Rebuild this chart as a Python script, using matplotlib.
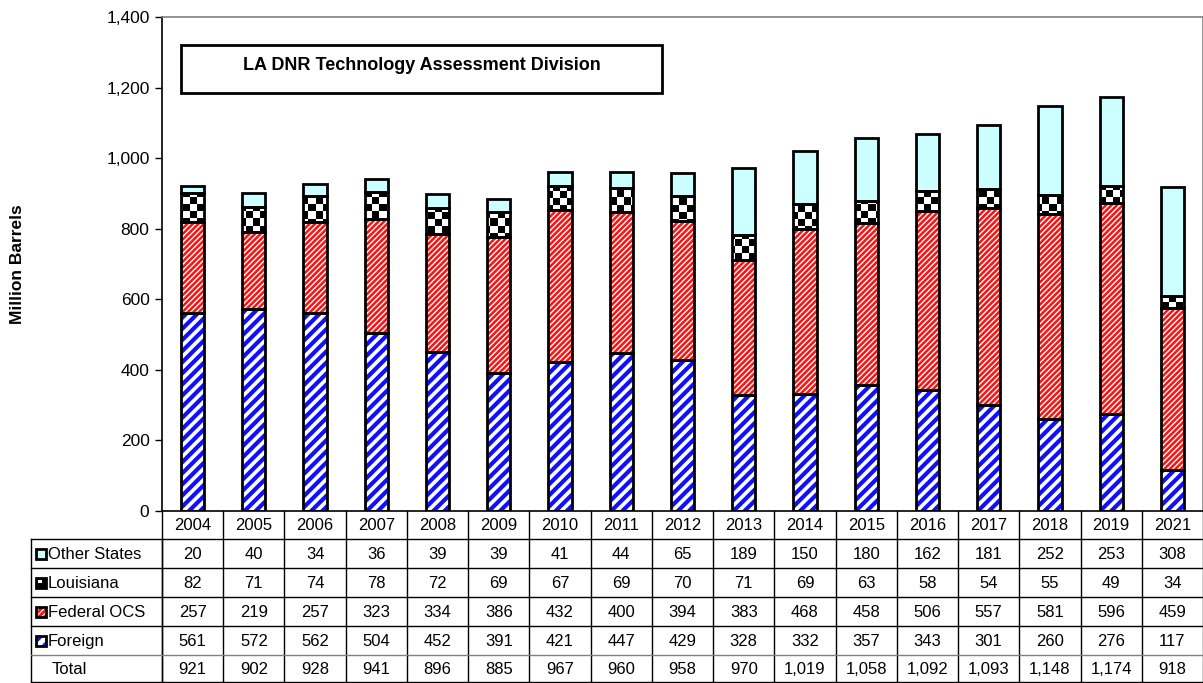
import matplotlib
matplotlib.use("Agg")
import matplotlib.pyplot as plt
import matplotlib.transforms as mtransforms
from matplotlib.patches import Rectangle
import numpy as np

plt.rcParams['font.family'] = ['Liberation Sans', 'DejaVu Sans']

years = ["2004", "2005", "2006", "2007", "2008", "2009", "2010", "2011", "2012",
         "2013", "2014", "2015", "2016", "2017", "2018", "2019", "2021"]
foreign = [561, 572, 562, 504, 452, 391, 421, 447, 429, 328, 332, 357, 343, 301, 260, 276, 117]
federal_ocs = [257, 219, 257, 323, 334, 386, 432, 400, 394, 383, 468, 458, 506, 557, 581, 596, 459]
louisiana = [82, 71, 74, 78, 72, 69, 67, 69, 70, 71, 69, 63, 58, 54, 55, 49, 34]
other_states = [20, 40, 34, 36, 39, 39, 41, 44, 65, 189, 150, 180, 162, 181, 252, 253, 308]
totals = [921, 902, 928, 941, 896, 885, 967, 960, 958, 970, 1019, 1058, 1092, 1093, 1148, 1174, 918]
row_labels = ["Other States", "Louisiana", "Federal OCS", "Foreign"]
yticks = [0, 200, 400, 600, 800, 1000, 1200, 1400]
box_title = "LA DNR Technology Assessment Division"
ylabel = "Million Barrels"

W, H = 1203, 683
fig = plt.figure(figsize=(W / 100, H / 100), dpi=100)

ax_left, ax_right, ax_top, ax_bot = 162, 1203, 17, 511
ax = fig.add_axes([ax_left / W, (H - ax_bot) / H, (ax_right - ax_left) / W, (ax_bot - ax_top) / H])

n = len(years)
x = np.arange(n)
bw = 0.38
foreign_a = np.array(foreign)
fed_a = np.array(federal_ocs)
la_a = np.array(louisiana)
oth_a = np.array(other_states)


def set_hlw(container, lw):
    for p in container.patches:
        if hasattr(p, 'set_hatch_linewidth'):
            p.set_hatch_linewidth(lw)


plt.rcParams['hatch.linewidth'] = 2.0
# Foreign (blue hatch)
b1 = ax.bar(x, foreign_a, bw, color='white', edgecolor='#1010ff', hatch='///', linewidth=0, zorder=2)
set_hlw(b1, 3.0)
# Federal OCS (red hatch)
b2 = ax.bar(x, fed_a, bw, bottom=foreign_a, color='white', edgecolor='#ff1010', hatch='//////',
            linewidth=0, zorder=2)
set_hlw(b2, 1.8)
# Louisiana (checkerboard)
la_bars = ax.bar(x, la_a, bw, bottom=foreign_a + fed_a, color='black', linewidth=0, zorder=2)
# Other states
ax.bar(x, oth_a, bw, bottom=foreign_a + fed_a + la_a, color='#ccffff', linewidth=0, zorder=2)

ax.set_xlim(-0.5, n - 0.5)
ax.set_ylim(0, 1400)

# checker texture for Louisiana
rows = int(round((ax_bot - ax_top) / 7.0))
cols = int(round((ax_right - ax_left) / 7.0))
checker = (np.add.outer(np.arange(rows), np.arange(cols)) % 2).astype(float)
for p in la_bars.patches:
    im = ax.imshow(checker, extent=(-0.5, n - 0.5, 0, 1400), cmap='gray', vmin=0, vmax=1,
                   interpolation='nearest', aspect='auto', zorder=2.5)
    im.set_clip_path(p)
ax.set_xlim(-0.5, n - 0.5)
ax.set_ylim(0, 1400)

# black outlines on top
for vals, bot in [(foreign_a, 0), (fed_a, foreign_a), (la_a, foreign_a + fed_a), (oth_a, foreign_a + fed_a + la_a)]:
    ax.bar(x, vals, bw, bottom=bot, fill=False, edgecolor='black', linewidth=2.0, zorder=3)

ax.set_yticks(yticks)
ax.set_yticklabels([f"{v:,}" for v in yticks], fontsize=12.5)
ax.set_xticks([])
ax.tick_params(axis='y', direction='out', length=5, width=1, pad=4)
ax.spines['top'].set_color('#808080')
ax.spines['right'].set_color('#808080')
ax.spines['left'].set_color('black')
ax.spines['bottom'].set_color('black')
for s in ax.spines.values():
    s.set_linewidth(1.2)

# Title box
fig.patches.append(Rectangle((181 / W, (H - 93) / H), (662 - 181) / W, (93 - 45) / H,
                             transform=fig.transFigure, fill=True, facecolor='white',
                             edgecolor='black', linewidth=2.0, zorder=5))
fig.text((181 + 662) / 2 / W, (H - 66) / H, box_title, ha='center', va='center',
         fontsize=13, fontweight='bold', zorder=6)

fig.text(18 / W, (H - (ax_top + ax_bot) / 2) / H, ylabel, rotation=90, ha='center', va='center',
         fontsize=12.5, fontweight='bold')

# Table
tab = fig.add_axes([0, 0, 1, 1], zorder=-1)
tab.set_xlim(0, W)
tab.set_ylim(H, 0)
tab.axis('off')
tr = mtransforms.blended_transform_factory(ax.transData, tab.transData)

row_y = [511, 539, 568, 597, 626, 655, 682]
lab_left = 31
edges = np.arange(n + 1) - 0.5
for e in edges:
    tab.plot([e, e], [511, 682], transform=tr, color='black', lw=1.0, clip_on=False)
tab.plot([lab_left, lab_left], [539, 682], color='black', lw=1.0)
tab.plot([ax_left, ax_left], [539, 682], color='black', lw=1.0)
for yy in row_y[1:]:
    col = '#808080' if yy == 655 else 'black'
    tab.plot([lab_left, W], [yy, yy], color=col, lw=1.0)

fs = 12
for i, yr in enumerate(years):
    tab.text(i, (511 + 539) / 2 + 1, yr, transform=tr, ha='center', va='center', fontsize=fs)

table_rows = [other_states, louisiana, federal_ocs, foreign]
for r, vals in enumerate(table_rows):
    yc = (row_y[r + 1] + row_y[r + 2]) / 2 + 1
    tab.text(48, yc, row_labels[r], ha='left', va='center', fontsize=fs)
    for i, v in enumerate(vals):
        tab.text(i, yc, f"{v:,}", transform=tr, ha='center', va='center', fontsize=fs)
yc = (655 + 682) / 2 + 1
tab.text(52, yc, "Total", ha='left', va='center', fontsize=fs)
for i, v in enumerate(totals):
    tab.text(i, yc, f"{v:,}", transform=tr, ha='center', va='center', fontsize=fs)

# Legend icons
icon_specs = [
    dict(facecolor='#ccffff', hatch=None, hc=None),
    dict(facecolor='black', hatch=None, hc=None),
    dict(facecolor='white', hatch='//////', hc='#ff1010'),
    dict(facecolor='white', hatch='///', hc='#1010ff'),
]
for r, spec in enumerate(icon_specs):
    yc = (row_y[r + 1] + row_y[r + 2]) / 2
    x0, y0, s = 36, yc - 5, 10
    if spec['hatch']:
        tab.add_patch(Rectangle((x0, y0), s, s, facecolor='white', edgecolor=spec['hc'],
                                hatch=spec['hatch'], linewidth=0))
    else:
        tab.add_patch(Rectangle((x0, y0), s, s, facecolor=spec['facecolor'], linewidth=0))
    if r == 1:
        tab.add_patch(Rectangle((x0 + 2, y0 + 2), 3.5, 3.5, facecolor='white', linewidth=0))
    tab.add_patch(Rectangle((x0, y0), s, s, fill=False, edgecolor='black', linewidth=2.0))

fig.savefig("out.png", dpi=100)
